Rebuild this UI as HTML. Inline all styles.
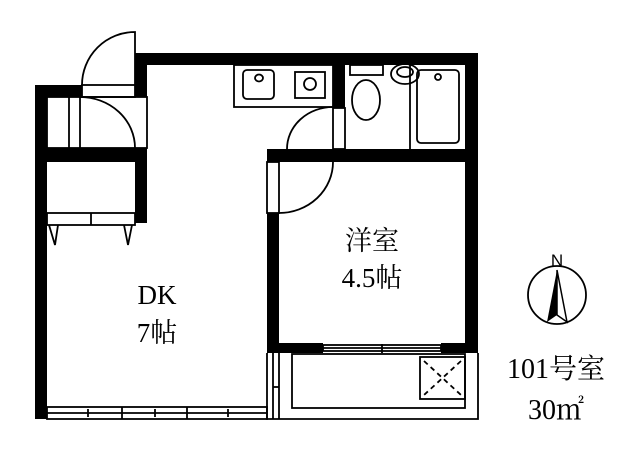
<!DOCTYPE html>
<html><head><meta charset="utf-8"><style>html,body{margin:0;padding:0;background:#fff}svg{display:block}</style></head>
<body>
<svg width="640" height="460" viewBox="0 0 640 460" xmlns="http://www.w3.org/2000/svg" font-family="'Liberation Serif','Noto Serif CJK SC',serif">
<rect width="640" height="460" fill="#fff"/>
<g fill="#000">
<rect x="35" y="85" width="12" height="334"/>
<rect x="35" y="85" width="47" height="12"/>
<rect x="135" y="53" width="12" height="44"/>
<rect x="135" y="148" width="12" height="75"/>
<rect x="35" y="148" width="112" height="14"/>
<rect x="135" y="53" width="343" height="12"/>
<rect x="465" y="53" width="13" height="300"/>
<rect x="333" y="53" width="12" height="55"/>
<rect x="267" y="149" width="211" height="13"/>
<rect x="267" y="213" width="12" height="140"/>
<rect x="267" y="343" width="56" height="10"/>
<rect x="441" y="343" width="37" height="10"/>
</g>
<g fill="none" stroke="#000" stroke-width="1.8">
<rect x="82" y="85" width="53" height="12"/>
<path d="M82 85 A53 53 0 0 1 135 32 L135 85"/>
<rect x="47" y="97" width="100" height="51"/>
<line x1="69" y1="97" x2="69" y2="148"/>
<line x1="80" y1="97" x2="80" y2="148"/>
<path d="M80 97 A55 51 0 0 1 135 148"/>
<rect x="47" y="213" width="88" height="12"/>
<line x1="91" y1="213" x2="91" y2="225"/>
<path d="M49 225 L55 245 L58 225 M124 225 L128 245 L132 225"/>
<rect x="234" y="65" width="99" height="42"/>
<rect x="243" y="70" width="31" height="29" rx="4"/>
<ellipse cx="259" cy="78" rx="4" ry="3.5"/>
<rect x="295" y="72" width="30" height="26"/>
<circle cx="310" cy="84" r="6"/>
<rect x="333" y="108" width="12" height="41"/>
<path d="M287 149 A46 42 0 0 1 333 107"/>
<rect x="350" y="65" width="33" height="10"/>
<ellipse cx="366" cy="100" rx="14" ry="20"/>
<ellipse cx="405" cy="74" rx="14" ry="10"/>
<ellipse cx="405" cy="72" rx="8" ry="5"/>
<line x1="410" y1="65" x2="410" y2="149"/>
<rect x="417" y="70" width="42" height="73" rx="4"/>
<circle cx="438" cy="77" r="3"/>
<rect x="267" y="162" width="12" height="51"/>
<path d="M279 213 A54 51 0 0 0 333 162"/>
<rect x="323" y="345" width="118" height="6"/>
<line x1="323" y1="348" x2="441" y2="348"/>
<line x1="382" y1="344" x2="382" y2="353"/>
<path d="M267 353 L267 419 L478 419 L478 353"/>
<rect x="292" y="354" width="173" height="54"/>
<line x1="273" y1="353" x2="273" y2="419"/>
<line x1="279" y1="353" x2="279" y2="419"/>
<line x1="273" y1="387" x2="279" y2="387"/>
<rect x="420" y="357" width="45" height="42"/>
<path d="M424 361 L461 395 M461 361 L424 395" stroke-dasharray="5 4"/>
<rect x="47" y="407" width="220" height="12"/>
<line x1="47" y1="413" x2="267" y2="413"/>
<line x1="122" y1="407" x2="122" y2="419"/>
<line x1="187" y1="407" x2="187" y2="419"/>
<line x1="88" y1="409" x2="88" y2="417"/>
<line x1="155" y1="409" x2="155" y2="417"/>
<line x1="228" y1="409" x2="228" y2="417"/>
<circle cx="557" cy="295" r="29"/>
</g>
<path d="M557 270 L547 322 L557 315 Z" fill="#000"/>
<path d="M557 270 L567 322 L557 315 Z" fill="#fff" stroke="#000" stroke-width="1.5"/>
<text x="557" y="266" font-family="'Liberation Sans',sans-serif" font-size="17" text-anchor="middle">N</text>
<g font-size="27" text-anchor="middle">
<text x="372" y="250">洋室</text>
<text x="372" y="287">4.5帖</text>
<text x="157" y="304">DK</text>
<text x="157" y="342">7帖</text>
<text x="556" y="378" font-size="28">101号室</text>
<text x="556" y="419" font-size="28">30㎡</text>
</g>
</svg>
</body></html>
